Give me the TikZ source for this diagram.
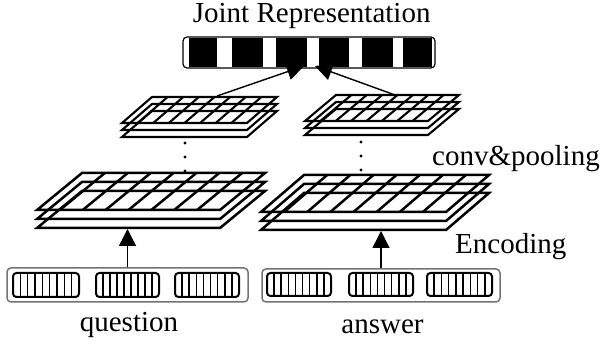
\documentclass[tikz,border=0pt]{standalone}
\usepackage{fontspec}
\setmainfont{Liberation Serif}
\usetikzlibrary{arrows.meta}
\newcommand\fstack[7]{% x y w slant h offset linewidth
  \foreach \k in {2,1,0}{\draw[line width=#7] ({#1},{#2+\k*#6}) -- ++({#3},0) -- ++({-#4},{#5}) -- ++({-#3},0) -- cycle;}
  \foreach \i in {1,...,7}{\draw[line width=#7] ({#1+\i*#3/8},{#2}) -- ++({-#4},{#5});}
}
\newcommand\tokbox[4]{% x1 y1 x2 y2
  \draw[tok] (#1,#2) rectangle (#3,#4);
  \foreach \i in {1,...,8}{\draw[tokline] ({#1+\i*(#3-#1)/9},#2) -- ({#1+\i*(#3-#1)/9},#4);}
}
\begin{document}
\begin{tikzpicture}[x=1pt,y=-1pt,
  lbl/.style={inner sep=0pt,font=\fontsize{29}{34}\selectfont},
  arr/.style={line width=1.4pt,-{Triangle[length=17pt,width=17pt]}},
  outerbox/.style={draw=black!55,line width=1.5pt,rounded corners=4pt,inner sep=0pt},
  tok/.style={line width=2pt,rounded corners=3.5pt},
  tokline/.style={line width=1.5pt},
  dot/.style={fill=black}]
\useasboundingbox (0,0) rectangle (606,347);
% joint representation
\node[lbl,anchor=base] (jr) at (311.7,23) {Joint Representation};
\foreach \a/\b in {189/217,232/263,276/307,319/349,362/393,403/432}
  \fill (\a,38) rectangle (\b,67);
\node[draw,line width=1.2pt,rounded corners=4pt,minimum width=252pt,minimum height=31pt,inner sep=0pt] (joint) at (309,52.5) {};
% small stacks
\fstack{152}{97}{125}{30}{26}{7}{2.1pt}
\fstack{336}{95}{123}{31}{26}{7}{2.1pt}
% big stacks
\fstack{82}{173}{183}{45}{37}{9}{2.5pt}
\fstack{304}{175}{185}{43}{37}{9}{2.5pt}
% dots
\foreach \y in {143,157,171} \fill (185,\y) circle (1.7pt);
\foreach \y in {142,156,170} \fill (361,\y) circle (1.7pt);
% input boxes
\node[outerbox,minimum width=241pt,minimum height=34pt] (qbox) at (127.5,285) {};
\node[outerbox,minimum width=238pt,minimum height=33pt] (abox) at (381,285.5) {};
\tokbox{13}{273}{79}{297}
\tokbox{96}{273}{159}{297}
\tokbox{175}{273}{239}{297}
\tokbox{267}{273}{331}{296}
\tokbox{349}{273}{413}{296}
\tokbox{427}{273}{492}{296}
% coordinates
\coordinate (qenc) at (127.5,229);
\coordinate (aenc) at (381,231);
\coordinate (qtop) at (217,96);
\coordinate (atop) at (395,95);
\coordinate (jl) at (304,66);
\coordinate (jrr) at (315,66);
% arrows
\draw[arr] (qbox.north) -- (qenc);
\draw[arr] (abox.north) -- (aenc);
\draw[arr] (qtop) -- (jl);
\draw[arr] (atop) -- (jrr);
% labels
\node[lbl,anchor=base west] (cp) at (432,166) {conv\&pooling};
\node[lbl,anchor=base west] (enc) at (455,254) {Encoding};
\node[lbl,anchor=base] (q) at (129,332) {question};
\node[lbl,anchor=base] (a) at (382.5,334) {answer};
\end{tikzpicture}
\end{document}
